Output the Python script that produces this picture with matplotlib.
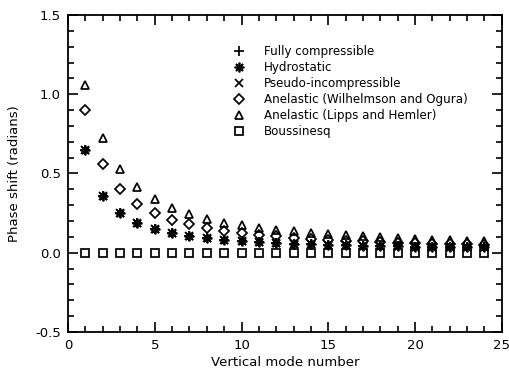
import numpy as np
import matplotlib
matplotlib.use("Agg")
import matplotlib.pyplot as plt
from matplotlib.ticker import MultipleLocator, FormatStrFormatter

# vertical mode numbers
modes = np.arange(1, 25)

# phase shift (radians)
hydrostatic = [0.65, 0.36, 0.25, 0.186, 0.148, 0.123, 0.103, 0.090, 0.082, 0.075,
               0.068, 0.062, 0.058, 0.054, 0.050, 0.047, 0.045, 0.043, 0.041, 0.039,
               0.037, 0.036, 0.035, 0.034]
anelastic_wo = [0.90, 0.56, 0.40, 0.306, 0.25, 0.207, 0.180, 0.157, 0.138, 0.123,
                0.112, 0.103, 0.095, 0.088, 0.082, 0.077, 0.072, 0.068, 0.064, 0.061,
                0.058, 0.055, 0.053, 0.051]
anelastic_lh = [1.06, 0.725, 0.53, 0.415, 0.338, 0.285, 0.247, 0.215, 0.190, 0.173,
                0.158, 0.145, 0.135, 0.125, 0.117, 0.110, 0.103, 0.097, 0.092, 0.087,
                0.083, 0.079, 0.076, 0.072]
# these two sit under the asterisks in the original
fully_comp = hydrostatic
pseudo_incomp = hydrostatic
boussinesq = [0.0] * 24

labels = ["Fully compressible", "Hydrostatic", "Pseudo-incompressible",
          "Anelastic (Wilhelmson and Ogura)", "Anelastic (Lipps and Hemler)",
          "Boussinesq"]

plt.rcParams['font.family'] = ['DejaVu Sans']
plt.rcParams['font.size'] = 8

fig = plt.figure(figsize=(5.10, 3.73), dpi=100)
ax = fig.add_axes([0.1333, 0.110, 0.8507, 0.8498])

kw = dict(linestyle='none', color='black', markerfacecolor='none',
          markeredgecolor='black', markeredgewidth=1.25)
ax.plot(modes, fully_comp, marker='+', markersize=7, label=labels[0], **kw)
ax.plot(modes, hydrostatic, marker=(8, 2, 0), markersize=7, label=labels[1], **kw)
ax.plot(modes, pseudo_incomp, marker='x', markersize=5.5, label=labels[2], **kw)
ax.plot(modes, anelastic_wo, marker='D', markersize=4.6, label=labels[3], **kw)
ax.plot(modes, anelastic_lh, marker='^', markersize=6.3, label=labels[4], **kw)
ax.plot(modes, boussinesq, marker='s', markersize=5.3, label=labels[5], **kw)

ax.set_xlim(0, 25)
ax.set_ylim(-0.5, 1.5)
ax.xaxis.set_major_locator(MultipleLocator(5))
ax.xaxis.set_minor_locator(MultipleLocator(1))
ax.yaxis.set_major_locator(MultipleLocator(0.5))
ax.yaxis.set_minor_locator(MultipleLocator(0.1))
ax.yaxis.set_major_formatter(FormatStrFormatter('%.1f'))
ax.tick_params(which='both', direction='in', top=True, right=True, width=1.2)
ax.tick_params(which='major', length=7, labelsize=9.5, pad=5)
ax.tick_params(which='minor', length=4)
for s in ax.spines.values():
    s.set_linewidth(1.3)

ax.set_xlabel("Vertical mode number", fontsize=9.5, labelpad=3)
ax.set_ylabel("Phase shift (radians)", fontsize=9.5, labelpad=10)

ax.legend(loc='upper left', bbox_to_anchor=(0.355, 0.94), frameon=False,
          handletextpad=1.6, labelspacing=0.26, handlelength=1.0,
          fontsize=8.6)

fig.savefig("out.png", dpi=100)
